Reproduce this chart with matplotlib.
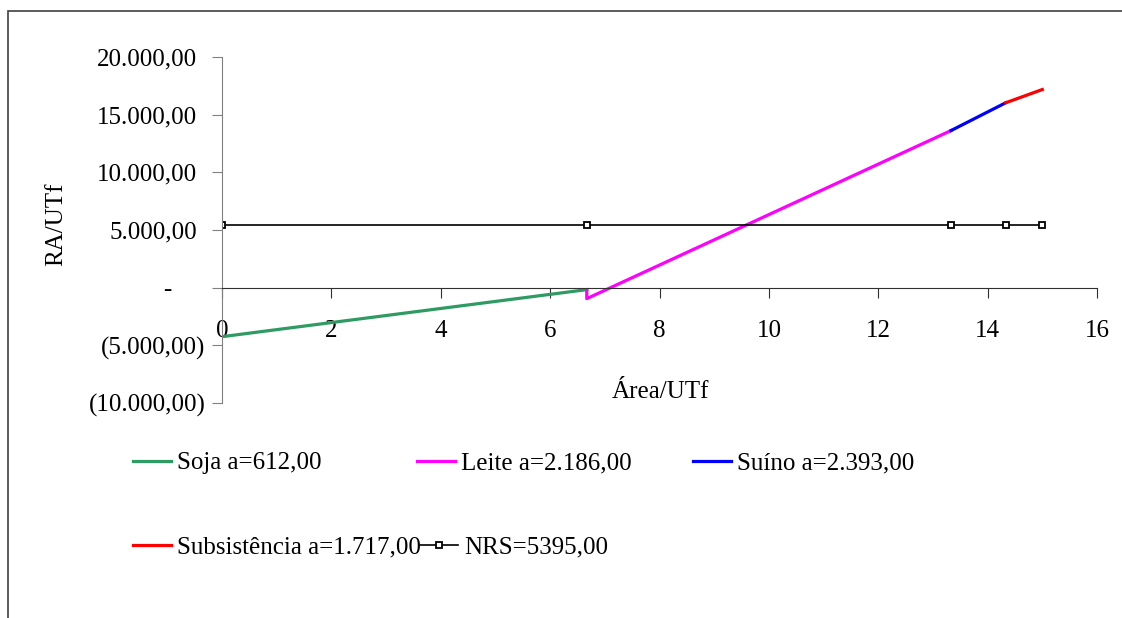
# grafico_ra_utf.py
# Renda agrícola por unidade de trabalho (RA/UTf) x área por UTf

import matplotlib.pyplot as plt
from matplotlib.patches import Rectangle
from matplotlib.transforms import ScaledTranslation

plt.rcParams["font.family"] = ["Liberation Serif", "DejaVu Serif"]
plt.rcParams["font.size"] = 18

# ---- DADOS ----
soja_x = [0, 6.67]
soja_y = [-4250, -170]
leite_x = [6.67, 6.67, 13.33]
leite_y = [-170, -950, 13620]
suino_x = [13.33, 14.33]
suino_y = [13620, 16030]
subs_x = [14.33, 15.0]
subs_y = [16030, 17180]
nrs_x = [0, 6.67, 13.33, 14.33, 15.0]
nrs_y = [5395, 5395, 5395, 5395, 5395]

labels = ["Soja a=612,00", "Leite a=2.186,00", "Suíno a=2.393,00",
          "Subsistência a=1.717,00", "NRS=5395,00"]

y_ticks = [-10000, -5000, 0, 5000, 10000, 15000, 20000]
y_ticklabels = ["(10.000,00)", "(5.000,00)", "-", "5.000,00",
                "10.000,00", "15.000,00", "20.000,00"]
x_ticks = list(range(0, 17, 2))

# ---- FIGURA ----
fig = plt.figure(figsize=(11.22, 6.18), dpi=100)
fig.patches.append(Rectangle((8 / 1122, -0.1), 1.2, 1 - 11 / 618 + 0.1,
                             transform=fig.transFigure, fill=False,
                             edgecolor="#404040", linewidth=1.2))

ax = fig.add_axes([222 / 1122, 1 - 403 / 618, 875 / 1122, 346 / 618])

h_soja, = ax.plot(soja_x, soja_y, color="#2E9B62", lw=2.3)
h_leite, = ax.plot(leite_x, leite_y, color="#FF00FF", lw=2.3)
h_suino, = ax.plot(suino_x, suino_y, color="#0000FF", lw=2.3)
h_subs, = ax.plot(subs_x, subs_y, color="#FF0000", lw=2.3)
h_nrs, = ax.plot(nrs_x, nrs_y, color="black", lw=1.2, marker="s",
                 markersize=5, markerfacecolor="white",
                 markeredgecolor="black", markeredgewidth=1.3)

ax.set_xlim(0, 16)
ax.set_ylim(-10000, 20000)

# eixos cruzando no zero
for s in ["top", "right"]:
    ax.spines[s].set_visible(False)
ax.spines["bottom"].set_position(("data", 0))
ax.spines["bottom"].set_color("#303030")
ax.spines["left"].set_color("#808080")

ax.set_xticks(x_ticks)
ax.set_xticklabels([str(v) for v in x_ticks])
ax.tick_params(axis="x", direction="out", length=7, color="#303030",
               pad=16, labelsize=18)
ax.set_yticks(y_ticks)
ax.set_yticklabels(y_ticklabels)
ax.tick_params(axis="y", direction="out", length=7, color="#808080",
               pad=10, labelsize=18)

# formato contábil: positivos deslocados, traço do zero mais à esquerda
for lab in ax.get_yticklabels():
    t = lab.get_text()
    if t == "-":
        dx = -27
    elif t.startswith("("):
        dx = 7
    else:
        dx = -1
    lab.set_transform(lab.get_transform() +
                      ScaledTranslation(dx / 100, 0, fig.dpi_scale_trans))

fig.text(660 / 1122, 1 - 392 / 618, "Área/UTf", ha="center", va="center",
         fontsize=18)
fig.text(56 / 1122, 1 - 224 / 618, "RA/UTf", ha="center", va="center",
         rotation=90, fontsize=18)

# ---- LEGENDA ----
handles = [h_soja, h_leite, h_suino, h_subs, h_nrs]
leg_pos = [(133, 463), (417, 463), (693, 463), (133, 547), (420, 547)]
for h, lab, (px, py) in zip(handles, labels, leg_pos):
    fig.legend([h], [lab], loc="center left",
               bbox_to_anchor=(px / 1122, 1 - py / 618),
               frameon=False, borderpad=0, borderaxespad=0,
               handlelength=1.5, handletextpad=0.25, numpoints=1,
               fontsize=18)

plt.savefig("out.png", dpi=100)
